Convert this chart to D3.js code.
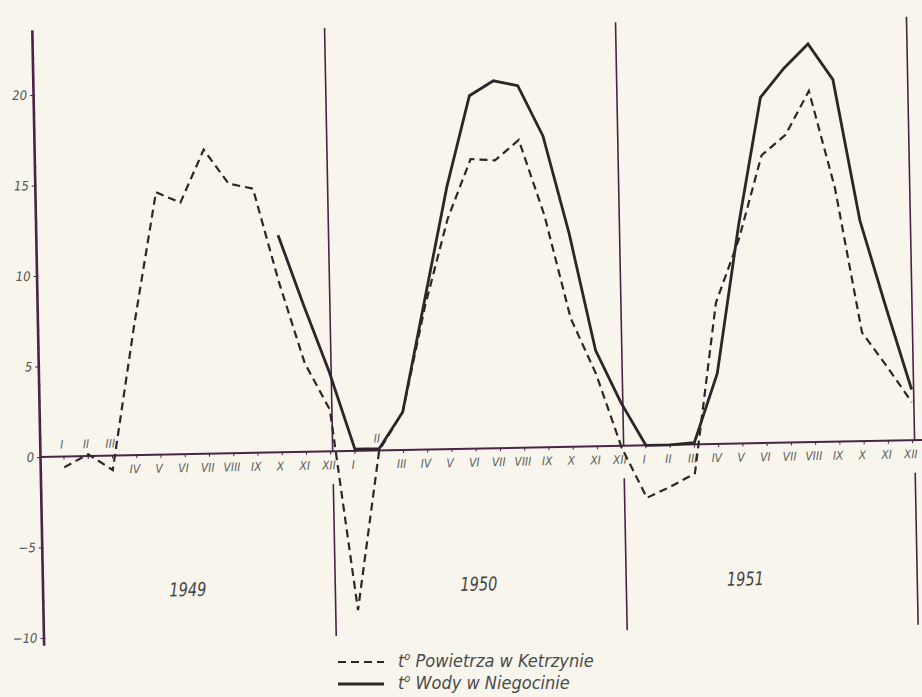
<!DOCTYPE html>
<html>
<head>
<meta charset="utf-8">
<title>Temperatura powietrza i wody 1949-1951</title>
<style>
body { margin: 0; background: #f7f5ec; }
svg { display: block; }
text {
  font-family: "Liberation Sans Narrow", "DejaVu Sans Condensed", "Roboto", sans-serif;
  font-style: italic;
  fill: #555;
}
.axis path, .axis line { stroke: #4b2346; }
.month { font-size: 12px; text-anchor: middle; fill: #5e5e5e; }
.year { font-size: 19px; text-anchor: middle; fill: #444; }
.legend { font-size: 18px; fill: #4a4a4a; }
.line { fill: none; stroke: #2c2628; }
.air { stroke-width: 2.2px; stroke-dasharray: 8,5; }
.water { stroke-width: 2.8px; }
</style>
</head>
<body>
<script src="https://cdn.jsdelivr.net/npm/d3@7"></script>
<script>

// months and years on the time axis
var months = ["I", "II", "III", "IV", "V", "VI", "VII", "VIII", "IX", "X", "XI", "XII"];
var years = [1949, 1950, 1951];

// monthly mean air temperature, Ketrzyn (dashed)
var airTemp = [
  -0.6, 0.1, -0.8, 7.2, 14.5, 13.9, 16.8, 14.9, 14.6, 9.4, 4.9, 2.3,
  -8.8, 0.0, 2.1, 7.9, 12.7, 16.0, 15.9, 17.0, 12.8, 7.1, 4.0, -0.1,
  -2.9, -2.3, -1.6, 7.8, 11.3, 15.9, 17.0, 19.4, 14.0, 6.0, 4.1, 2.1
];

// monthly mean water temperature, Niegocin (solid) - no data before X 1949
var waterTemp = [
  null, null, null, null, null, null, null, null, null, 12.0, 8.1, 4.4,
  0.1, 0.1, 2.1, 8.3, 14.5, 19.5, 20.3, 20.0, 17.2, 11.8, 5.3, 2.4,
  0.0, 0.0, 0.1, 3.9, 12.1, 19.1, 20.7, 22.0, 20.0, 12.2, 7.4, 2.8
];

var yTicks = [20, 15, 10, 5, 0, -5, -10];

// month labels that sit above the zero line
var labelsAbove = [0, 1, 2, 13];
// month (within the year) under which the year label is centred
var yearLabelMonth = [5, 5, 4];

var width = 922, height = 697;

var svg = d3.select("body").append("svg")
    .attr("width", width)
    .attr("height", height);

svg.append("rect")
    .attr("width", width)
    .attr("height", height)
    .attr("fill", "#f7f5ec");

// the scanned page is slightly turned, so the whole plot is too
var g = svg.append("g")
    .attr("transform", "rotate(-1.1, 40, 457)");

var n = years.length * months.length;

var x = d3.scaleLinear()
    .domain([0, n - 1])
    .range([64, 912.75]);

var y = d3.scaleLinear()
    .domain([-10.4, 23.6])
    .range([645.2, 29.8]);

var x0 = 40;

// year separators, broken where the month names are
years.forEach(function(yr, i) {
  var xs = x(i * 12 + 11) + 2;
  g.append("line")
    .attr("x1", xs).attr("x2", xs)
    .attr("y1", y(23.4)).attr("y2", y(0))
    .attr("stroke", "#4b2346").attr("stroke-width", 1.6);
  g.append("line")
    .attr("x1", xs).attr("x2", xs)
    .attr("y1", y(-1.8)).attr("y2", y(-10.2))
    .attr("stroke", "#4b2346").attr("stroke-width", 1.6);
});

// zero line
g.append("line")
    .attr("x1", x0).attr("x2", 940)
    .attr("y1", y(0)).attr("y2", y(0))
    .attr("stroke", "#4b2346")
    .attr("stroke-width", 2);

// small month ticks on the zero line
g.selectAll(".mtick")
  .data(d3.range(n)).enter()
  .append("line")
    .attr("class", "mtick")
    .attr("x1", d => x(d)).attr("x2", d => x(d))
    .attr("y1", y(0)).attr("y2", y(0) + 3)
    .attr("stroke", "#4b2346").attr("stroke-width", 1);

// y axis
var yAxis = g.append("g")
    .attr("class", "axis")
    .attr("transform", "translate(" + x0 + ",0)")
    .call(d3.axisLeft(y).tickValues(yTicks).tickSize(3).tickPadding(3).tickSizeOuter(0));
yAxis.select(".domain").attr("stroke-width", 2.6);
yAxis.selectAll(".tick text")
    .style("font-size", "13px")
    .attr("fill", "#555");

// minor unit ticks
g.selectAll(".minor")
  .data(d3.range(-10, 24)).enter()
  .append("line")
    .attr("x1", x0).attr("x2", x0 + 2)
    .attr("y1", d => y(d)).attr("y2", d => y(d))
    .attr("stroke", "#4b2346").attr("stroke-width", 0.8);

// month names
g.selectAll(".month")
  .data(d3.range(n)).enter()
  .append("text")
    .attr("class", "month")
    .attr("x", d => x(d) - 2)
    .attr("y", d => labelsAbove.indexOf(d) >= 0 ? y(0) - 8 : y(0) + 18)
    .text(d => months[d % 12]);

// year names, squeezed like the narrow lettering of the original
g.selectAll(".year")
  .data(years).enter()
  .append("text")
    .attr("class", "year")
    .attr("x", (d, i) => x(i * 12 + yearLabelMonth[i]))
    .attr("y", 599)
    .attr("textLength", 37)
    .attr("lengthAdjust", "spacingAndGlyphs")
    .text(d => d);

var line = d3.line()
    .defined(d => d != null)
    .x((d, i) => x(i))
    .y(d => y(d));

g.append("path")
    .attr("class", "line air")
    .attr("d", line(airTemp));

g.append("path")
    .attr("class", "line water")
    .attr("d", line(waterTemp));

// legend (level, below the plot)
var legend = svg.append("g").attr("transform", "translate(338,0)");
var entries = [
  {cls: "air", label: " Powietrza w Ketrzynie", y: 662},
  {cls: "water", label: " Wody w Niegocinie", y: 684}
];
entries.forEach(function(e) {
  legend.append("line")
    .attr("class", "line " + e.cls)
    .attr("x1", 0).attr("x2", 46)
    .attr("y1", e.y).attr("y2", e.y);
  var t = legend.append("text")
    .attr("class", "legend")
    .attr("x", 60)
    .attr("y", e.y + 5);
  t.append("tspan").text("t");
  t.append("tspan").attr("dy", -7).style("font-size", "11px").text("o");
  t.append("tspan").attr("dy", 7).text(e.label);
});

</script>
</body>
</html>
